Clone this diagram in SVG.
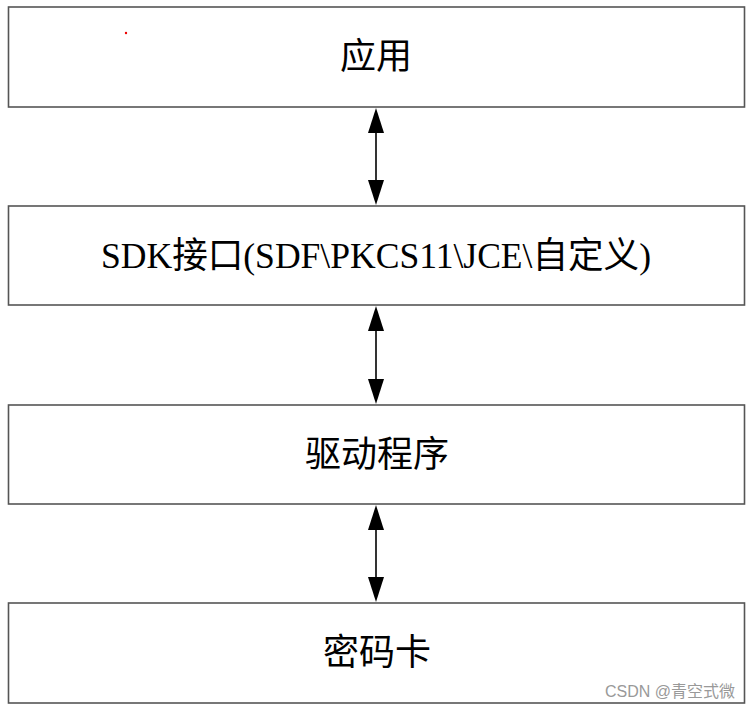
<svg xmlns="http://www.w3.org/2000/svg" width="750" height="710" viewBox="0 0 750 710">
<defs>
<style>
.box{fill:#fff;stroke:#555;stroke-width:1.6}
.lbl{font-family:"Liberation Serif","Noto Sans CJK SC",serif;font-size:36px;fill:#000;text-anchor:middle}
.conn{stroke:#000;stroke-width:1.6;fill:none}
.head{fill:#000}
.wm{font-family:"Liberation Sans","Noto Sans CJK SC",sans-serif;font-size:16px;fill:#999}
</style>
</defs>
<rect width="750" height="710" fill="#fff"/>
<g id="n1"><rect class="box" x="8.5" y="7" width="736" height="100"/><text class="lbl" x="376" y="69">应用</text></g>
<g id="n2"><rect class="box" x="8.5" y="206" width="736" height="99"/><text class="lbl" x="376" y="268" textLength="550" lengthAdjust="spacingAndGlyphs">SDK接口(SDF\PKCS11\JCE\自定义)</text></g>
<g id="n3"><rect class="box" x="8.5" y="405" width="736" height="99"/><text class="lbl" x="377" y="467">驱动程序</text></g>
<g id="n4"><rect class="box" x="8.5" y="603" width="736" height="100"/><text class="lbl" x="377" y="665">密码卡</text></g>
<g id="connectors">
<line class="conn" x1="376" y1="120" x2="376" y2="193"/>
<polygon class="head" points="376,108 384,133 368,133"/>
<polygon class="head" points="376,205 384,180 368,180"/>
<line class="conn" x1="376" y1="318" x2="376" y2="392"/>
<polygon class="head" points="376,306 384,331 368,331"/>
<polygon class="head" points="376,404 384,379 368,379"/>
<line class="conn" x1="376" y1="517" x2="376" y2="590"/>
<polygon class="head" points="376,505 384,530 368,530"/>
<polygon class="head" points="376,602 384,577 368,577"/>
</g>
<circle cx="126" cy="33" r="1.2" fill="#e00"/>
<text class="wm" x="735" y="697" text-anchor="end">CSDN @青空式微</text>
</svg>
